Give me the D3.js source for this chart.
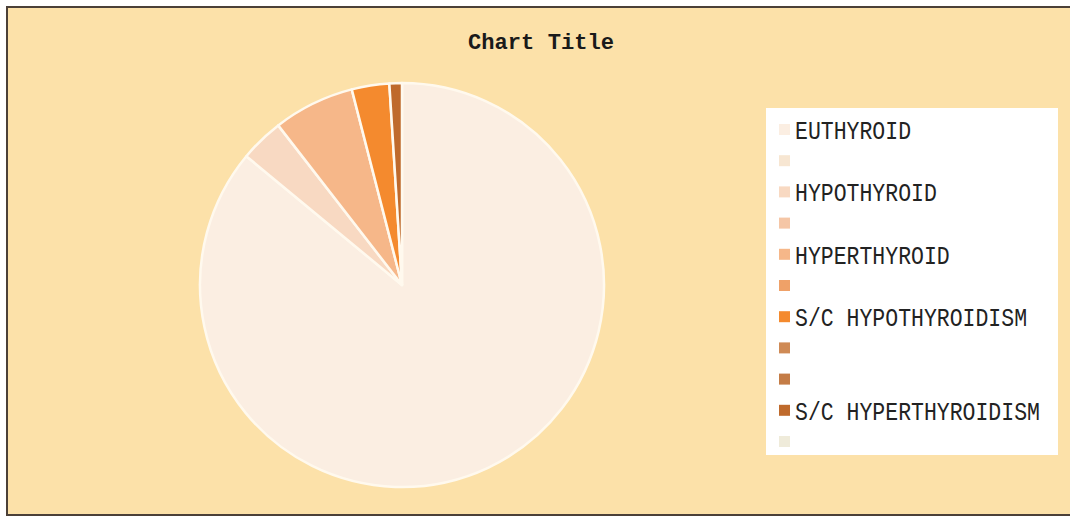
<!DOCTYPE html>
<html><head><meta charset="utf-8">
<script src="https://cdn.jsdelivr.net/npm/d3@7"></script>
<style>html,body{margin:0;padding:0;background:#fff;}svg{display:block;}</style>
</head><body>
<svg id="chart" width="1070" height="517"></svg>
<script>
const title = "Chart Title";
const categories = ["EUTHYROID","","HYPOTHYROID","","HYPERTHYROID","","S/C HYPOTHYROIDISM","","","S/C HYPERTHYROIDISM",""];
const values = [172,0,7,0,13,0,6,0,0,2,0];
const colors = ["#FBEEE2","#F7E6D2","#F8D9C2","#F5C6A6","#F6B789","#EFA168","#F48A2E","#CF8A55","#C47C46","#BF6A2C","#EFEBDA"];

const svg = d3.select("#chart");
const W = 1070, H = 517;

svg.append("rect").attr("x",0).attr("y",0).attr("width",W).attr("height",H).attr("fill","#fff");
svg.append("rect").attr("x",7).attr("y",7).attr("width",W+10).attr("height",508)
  .attr("fill","#FCE1A9").attr("stroke","#4b4038").attr("stroke-width",2);

svg.append("text").attr("x",541).attr("y",49).attr("text-anchor","middle")
  .attr("font-family","Liberation Mono").attr("font-weight","bold").attr("font-size",22)
  .attr("textLength",146).attr("lengthAdjust","spacingAndGlyphs")
  .attr("fill","#1a1a1a").text(title);

const data = categories.map((c,i)=>({c, v: values[i], col: colors[i]}));
const pie = d3.pie().value(d=>d.v).sort(null);
const arc = d3.arc().innerRadius(0).outerRadius(202);
const g = svg.append("g").attr("transform","translate(402,285)");
g.selectAll("path").data(pie(data).filter(d=>d.data.v>0)).join("path")
  .attr("d",arc).attr("fill",d=>d.data.col)
  .attr("stroke","#FFF9EE").attr("stroke-width",2.5).attr("stroke-linejoin","round");

const lg = svg.append("g");
lg.append("rect").attr("x",766).attr("y",108).attr("width",292).attr("height",347).attr("fill","#fff");
const ly = d3.scalePoint().domain(d3.range(categories.length)).range([130,442]);
data.forEach((d,i)=>{
  const y = ly(i);
  lg.append("rect").attr("x",779).attr("y",y-6).attr("width",11).attr("height",11).attr("fill",d.col);
  if (d.c) {
    lg.append("text").attr("transform",`translate(795,${y+9}) scale(0.86,1)`)
      .attr("font-family","Liberation Mono").attr("font-size",25)
      .attr("fill","#222").text(d.c);
  }
});
</script>
</body></html>
